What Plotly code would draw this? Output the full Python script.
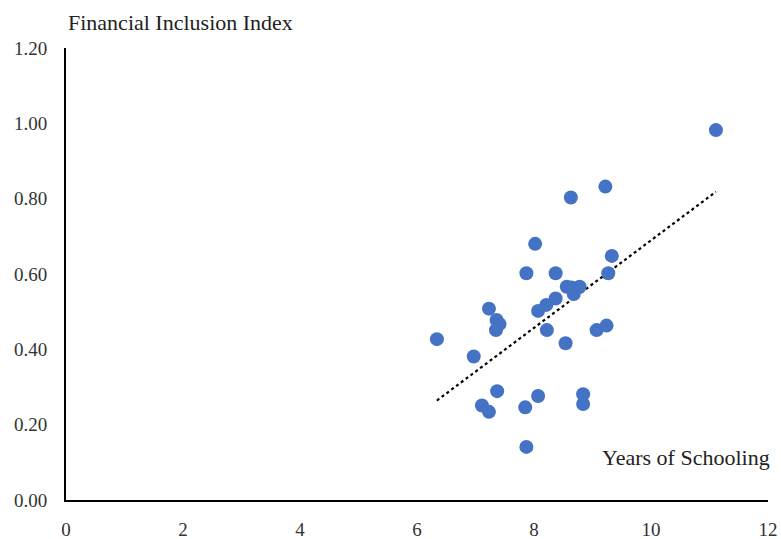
import numpy as np
import plotly.graph_objects as go

# Data
years_of_schooling = [11.11, 9.22, 8.63, 8.02, 9.33, 7.87, 8.37, 9.27, 8.56, 8.64, 8.78,
                      8.68, 8.37, 8.21, 8.07, 7.23, 7.36, 7.41, 7.35, 8.22, 9.07, 9.24,
                      8.54, 6.34, 6.97, 7.37, 8.07, 8.84, 8.84, 7.11, 7.23, 7.85, 7.87]
inclusion_index = [0.982, 0.832, 0.803, 0.680, 0.648, 0.602, 0.602, 0.602, 0.566, 0.564, 0.566,
                   0.547, 0.535, 0.518, 0.502, 0.508, 0.478, 0.467, 0.451, 0.451, 0.451, 0.463,
                   0.416, 0.427, 0.381, 0.289, 0.276, 0.281, 0.255, 0.251, 0.234, 0.246, 0.141]

x_ticks = [0, 2, 4, 6, 8, 10, 12]
y_ticks = [0.0, 0.2, 0.4, 0.6, 0.8, 1.0, 1.2]

x = np.array(years_of_schooling)
y = np.array(inclusion_index)
slope, intercept = np.polyfit(x, y, 1)
tx = np.array([x.min(), x.max()])
ty = slope * tx + intercept

serif = "Liberation Serif, Times New Roman, serif"

fig = go.Figure()
fig.add_trace(go.Scatter(x=tx, y=ty, mode="lines",
                         line=dict(color="black", width=2.2, dash="dot"),
                         hoverinfo="skip", showlegend=False))
fig.add_trace(go.Scatter(x=x, y=y, mode="markers",
                         marker=dict(color="#4472C4", size=14, line=dict(width=0)),
                         showlegend=False))

fig.update_layout(
    width=781, height=539,
    margin=dict(l=66, r=13, t=48, b=39),
    paper_bgcolor="white", plot_bgcolor="white",
    font=dict(family=serif, size=19, color="#333333"),
    xaxis=dict(range=[0, 12], tickvals=x_ticks, ticktext=[str(v) for v in x_ticks],
               showgrid=False, zeroline=False, showline=True, linecolor="black", linewidth=2,
               ticks="outside", ticklen=11, tickcolor="rgba(0,0,0,0)", fixedrange=True,
               automargin=False),
    yaxis=dict(range=[0, 1.2], tickvals=y_ticks, ticktext=[f"{v:.2f}" for v in y_ticks],
               showgrid=False, zeroline=False, showline=True, linecolor="black", linewidth=2,
               ticks="outside", ticklen=13, tickcolor="rgba(0,0,0,0)", fixedrange=True,
               automargin=False),
    annotations=[
        dict(text="Financial Inclusion Index", xref="paper", yref="paper",
             x=0.0, y=1.0, xanchor="left", yanchor="middle", yshift=26, xshift=0,
             showarrow=False, font=dict(family=serif, size=22, color="#222222")),
        dict(text="Years of Schooling", xref="paper", yref="paper",
             x=1.0, y=0.0, xanchor="right", yanchor="middle", yshift=43, xshift=4,
             showarrow=False, font=dict(family=serif, size=22, color="#222222")),
    ],
)

fig.write_html("out.html",
               config={"displayModeBar": False},
               post_script="document.body.style.margin='0';document.body.style.overflow='hidden';")
